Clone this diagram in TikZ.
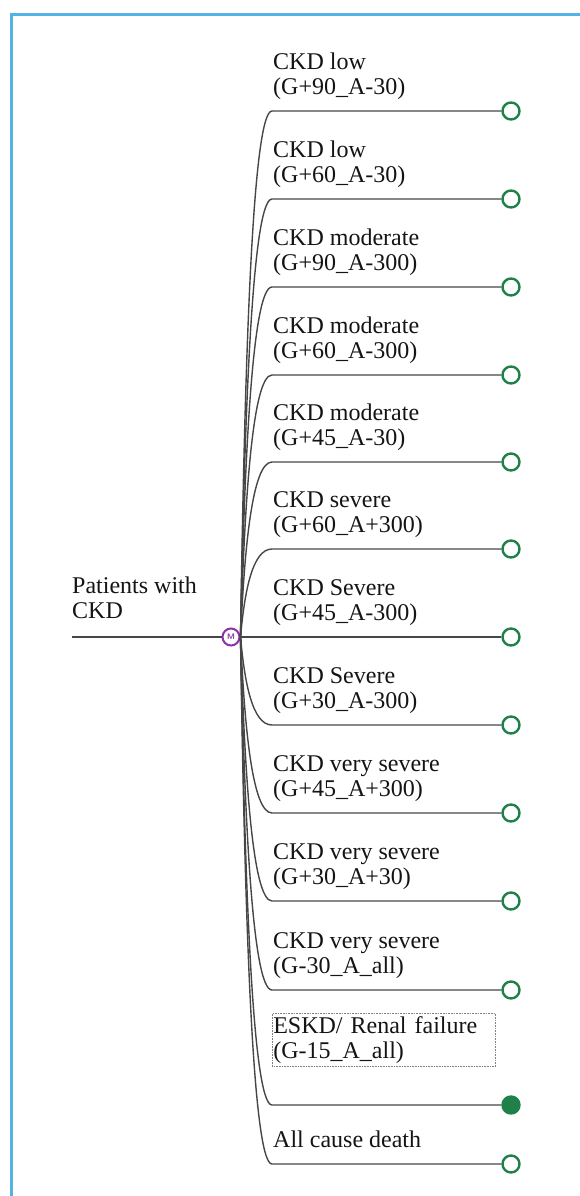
\documentclass[tikz,border=0pt]{standalone}
\usepackage{fontspec}
\setmainfont{Liberation Serif}
\usetikzlibrary{positioning}
\definecolor{frameblue}{RGB}{85,178,232}
\definecolor{termgreen}{RGB}{32,128,74}
\definecolor{chancepurple}{RGB}{140,48,172}
\definecolor{branchgrey}{RGB}{70,70,70}

\begin{document}
\begin{tikzpicture}[x=1pt, y=-1pt,
  branch/.style={draw=branchgrey, line width=1.4pt},
  terminal/.style={draw=termgreen, circle, line width=2.4pt, minimum size=17pt, inner sep=0pt, fill=white},
  chance/.style={draw=chancepurple, circle, line width=2pt, minimum size=17pt, inner sep=0pt, fill=white, text=chancepurple, font=\sffamily\bfseries\fontsize{8}{8}\selectfont},
  branchtext/.style={anchor=north west, inner sep=0pt, align=left, text=black!92, font=\fontsize{24}{25}\selectfont}]
\useasboundingbox (0,0) rectangle (579,1196);
\draw[frameblue, line width=3pt] (11,1197) -- (11,15) -- (580,15);

% root and chance node
\coordinate (root) at (72,637);
\node[chance] (chance) at (231,637) {M};
\draw[branch] (root) -- (chance);
\node[branchtext] (rootlab) at (72,577) {Patients with\\CKD};

% health states
\foreach \i/\y/\first/\second in {
  1/111/CKD low/(G+90\_A-30),
  2/199/CKD low/(G+60\_A-30),
  3/287/CKD moderate/(G+90\_A-300),
  4/375/CKD moderate/(G+60\_A-300),
  5/462/CKD moderate/(G+45\_A-30),
  6/549/CKD severe/(G+60\_A+300),
  7/637/CKD Severe/(G+45\_A-300),
  8/725/CKD Severe/(G+30\_A-300),
  9/813/CKD very severe/(G+45\_A+300),
  10/901/CKD very severe/(G+30\_A+30),
  11/990/CKD very severe/(G-30\_A\_all)}{
  \node[terminal] (end\i) at (511,\y) {};
  \node[branchtext] (lab\i) at (273,\y-58) {\first\\\second};
  \draw[branch] (chance.east) .. controls +(4,{0.5*(\y-637)}) and +(-20,0) .. (272,\y) -- (end\i);
}

% absorbing states
\node[terminal, fill=termgreen] (end12) at (511,1105) {};
\node[branchtext, draw=gray, densely dotted, line width=0.6pt, inner xsep=1pt, inner ysep=3pt, text width=221pt] (lab12) at (272,1013) {ESKD/ Renal failure\\(G-15\_A\_all)};
\draw[branch] (chance.east) .. controls +(4,{0.5*(1105-637)}) and +(-20,0) .. (272,1105) -- (end12);

\node[terminal] (end13) at (511,1164) {};
\node[branchtext] (lab13) at (273,1131) {All cause death};
\draw[branch] (chance.east) .. controls +(4,{0.5*(1164-637)}) and +(-20,0) .. (272,1164) -- (end13);
\end{tikzpicture}
\end{document}
